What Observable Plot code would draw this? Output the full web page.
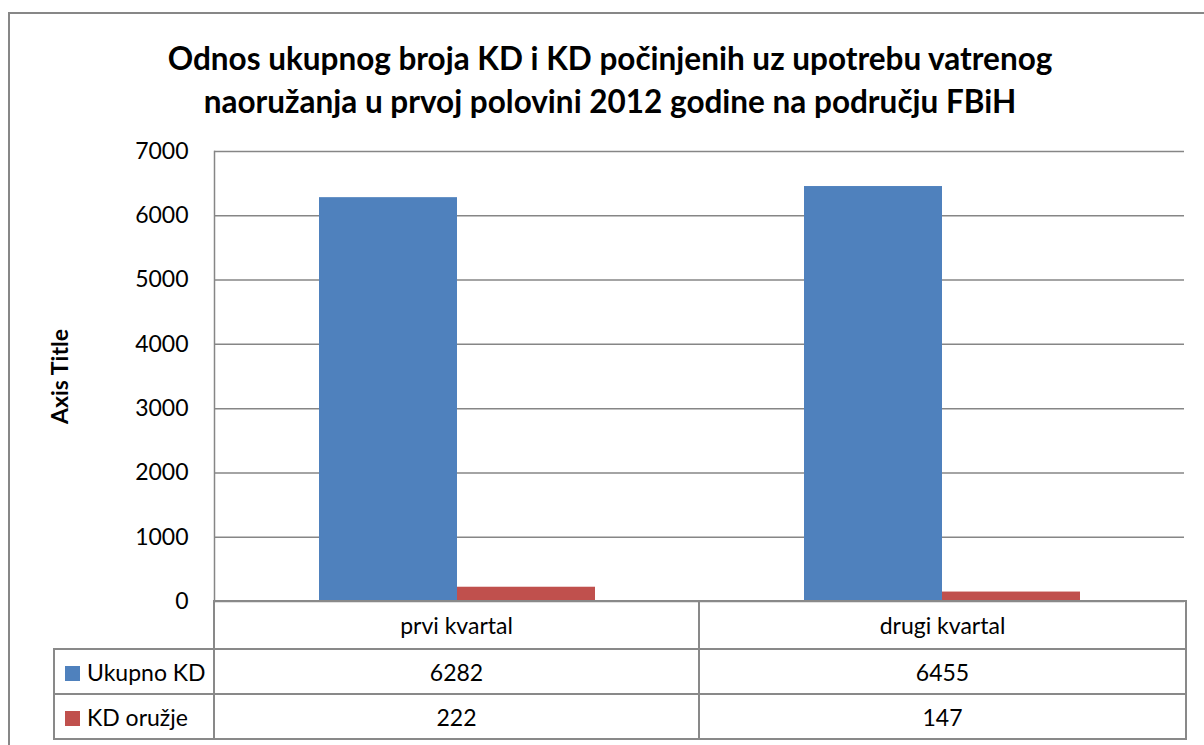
<!DOCTYPE html>
<html><head><meta charset="utf-8">
<script src="https://cdn.jsdelivr.net/npm/d3@7"></script>
<script src="https://cdn.jsdelivr.net/npm/@observablehq/plot@0.6"></script>
<style>
body{margin:0;background:#fff;font-family:Lato, "Open Sans", sans-serif;}
#wrap{position:relative;width:1204px;height:745px;overflow:hidden;background:#fff;}
#border{position:absolute;left:8px;top:12px;width:1300px;height:800px;border-left:2px solid #878787;border-top:2px solid #878787;}
#title{position:absolute;left:8px;width:1204px;top:37px;text-align:center;font-weight:bold;font-size:31.5px;line-height:43px;color:#000;}
#chart{position:absolute;left:0;top:0;}
#chart svg{overflow:visible;}
#chart text{fill:#000;}
#tbl{position:absolute;left:53px;top:600px;border-collapse:collapse;table-layout:fixed;font-size:23px;color:#000;}
#tbl td{border:2px solid #898989;padding:0;text-align:center;box-sizing:border-box;}
#tbl tr.cat td{height:48px;}
#tbl tr.ser td{height:45px;}
#tbl td.blank{border-left:none;border-top:none;}
#tbl td.key{text-align:left;padding-left:10px;white-space:nowrap;}
.sw{display:inline-block;width:15px;height:15px;margin-right:7px;vertical-align:0px;}
g[aria-label="y-axis label"] text{font-weight:bold;font-size:23px;}
</style></head>
<body>
<div id="wrap">
  <div id="border"></div>
  <div id="chart"></div>
  <div id="title">Odnos ukupnog broja KD i KD počinjenih uz upotrebu vatrenog<br>naoružanja u prvoj polovini 2012 godine na području FBiH</div>
  <table id="tbl"></table>
</div>
<script>
const categories = ["prvi kvartal", "drugi kvartal"];
const seriesNames = ["Ukupno KD", "KD oružje"];
const ukupnoKD = [6282, 6455];
const kdOruzje = [222, 147];
const seriesColors = ["#4F81BD", "#C0504D"];
const yTicks = [0, 1000, 2000, 3000, 4000, 5000, 6000, 7000];
const axisTitle = "Axis Title";

const seriesValues = [ukupnoKD, kdOruzje];
const data = [];
categories.forEach((c, i) => seriesNames.forEach((s, j) => data.push({category: c, series: s, value: seriesValues[j][i]})));

const plot = Plot.plot({
  width: 1204,
  height: 603,
  marginTop: 151,
  marginBottom: 2,
  marginLeft: 213,
  marginRight: 20,
  style: {fontFamily: "Lato, 'Open Sans', sans-serif", fontSize: "23px", background: "transparent"},
  fx: {domain: categories, axis: null, padding: 0},
  x: {domain: seriesNames, axis: null, paddingInner: 0, paddingOuter: 0.746},
  y: {domain: [0, 7000], ticks: yTicks, tickSize: 0, tickPadding: 26, tickFormat: "d",
      label: axisTitle, labelAnchor: "center", labelOffset: 163, labelArrow: "none"},
  color: {domain: seriesNames, range: seriesColors},
  marks: [
    Plot.gridY(yTicks, {stroke: "#868686", strokeOpacity: 1, strokeWidth: 1.5}),
    Plot.barY(data, {fx: "category", x: "series", y: "value", fill: "series"}),
    Plot.frame({anchor: "left", stroke: "#868686", strokeWidth: 1.5, fx: () => categories[0]})
  ]
});
document.getElementById("chart").appendChild(plot);

// data table
const tbl = d3.select("#tbl");
const cg = tbl.append("colgroup");
cg.append("col").style("width", "160px");
cg.append("col").style("width", "485px");
cg.append("col").style("width", "487px");
const head = tbl.append("tr").attr("class", "cat");
head.append("td").attr("class", "blank");
categories.forEach(c => head.append("td").text(c));
seriesNames.forEach((s, j) => {
  const tr = tbl.append("tr").attr("class", "ser");
  const k = tr.append("td").attr("class", "key");
  k.append("span").attr("class", "sw").style("background", seriesColors[j]);
  k.append("span").text(s);
  seriesValues[j].forEach(v => tr.append("td").text(v));
});
</script>
</body></html>
